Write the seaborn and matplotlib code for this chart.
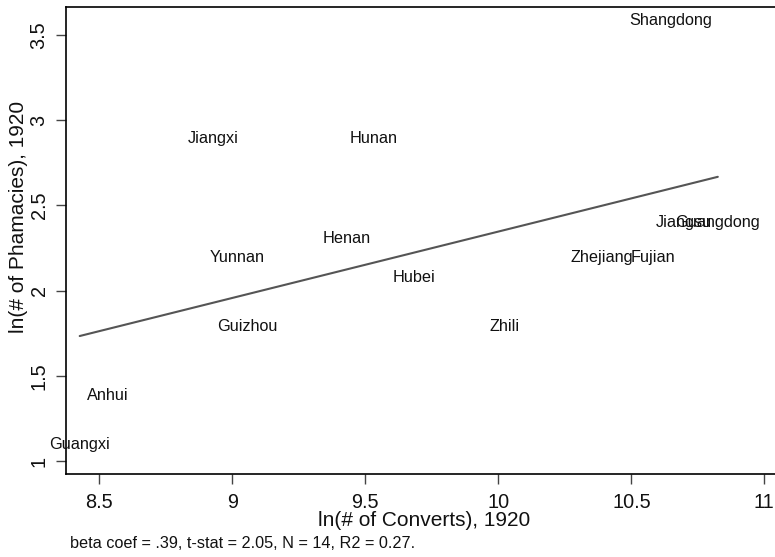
import matplotlib
matplotlib.use("Agg")
import matplotlib.pyplot as plt
import numpy as np
import pandas as pd
import seaborn as sns

# Provinces: log converts vs log pharmacies, 1920
provinces = ["Shangdong", "Jiangxi", "Hunan", "Henan", "Yunnan", "Hubei", "Guizhou",
             "Zhili", "Zhejiang", "Fujian", "Jiangsu", "Guangdong", "Anhui", "Guangxi"]
ln_converts = [10.647, 8.927, 9.533, 9.431, 9.018, 9.683, 9.055,
               10.024, 10.390, 10.583, 10.698, 10.825, 8.534, 8.427]
ln_pharmacies = [3.584, 2.890, 2.890, 2.303, 2.197, 2.079, 1.792,
                 1.792, 2.197, 2.197, 2.398, 2.398, 1.386, 1.099]

xticks = [8.5, 9, 9.5, 10, 10.5, 11]
yticks = [1, 1.5, 2, 2.5, 3, 3.5]
xtick_labels = ["8.5", "9", "9.5", "10", "10.5", "11"]
ytick_labels = ["1", "1.5", "2", "2.5", "3", "3.5"]
note = "beta coef = .39, t-stat = 2.05, N = 14, R2 = 0.27."

df = pd.DataFrame({"province": provinces, "x": ln_converts, "y": ln_pharmacies})

sns.set_theme(style="white")
plt.rcParams["font.family"] = ["Liberation Sans", "DejaVu Sans"]

fig = plt.figure(figsize=(7.75, 5.57), dpi=100)
ax = fig.add_axes([66 / 775, 83 / 557, (783 - 66) / 775, (474 - 7) / 557])

# fitted line over the range of the data
sns.regplot(data=df, x="x", y="y", scatter=False, ci=None, ax=ax,
            line_kws={"color": "#555555", "linewidth": 1.5})

# province names centred on their points
for name, xv, yv in zip(df["province"], df["x"], df["y"]):
    ax.text(xv, yv, name, ha="center", va="center", fontsize=11.7, color="#111111",
            clip_on=False)

ax.set_xlim(8.3755, 11.07)
ax.set_ylim(0.924, 3.664)
ax.set_xticks(xticks)
ax.set_xticklabels(xtick_labels)
ax.set_yticks(yticks)
ax.set_yticklabels(ytick_labels, rotation=90, va="center")
ax.tick_params(axis="both", direction="out", length=7.5, width=1, color="#444444",
               labelsize=14.3, labelcolor="#111111", bottom=True, left=True)
ax.tick_params(axis="x", pad=6.5)
ax.tick_params(axis="y", pad=5)

for side in ["left", "bottom", "top"]:
    ax.spines[side].set_visible(True)
    ax.spines[side].set_color("black")
    ax.spines[side].set_linewidth(1.2)
ax.spines["right"].set_visible(False)

ax.set_xlabel("ln(# of Converts), 1920", fontsize=15, color="#111111", labelpad=-1)
ax.set_ylabel("ln(# of Phamacies), 1920", fontsize=15, color="#111111")
ax.yaxis.set_label_coords(-0.053, 0.55)

fig.text(70 / 775, 1 - 544 / 557, note, ha="left", va="center", fontsize=11.7,
         color="#111111")

fig.savefig("out.png", dpi=100)
